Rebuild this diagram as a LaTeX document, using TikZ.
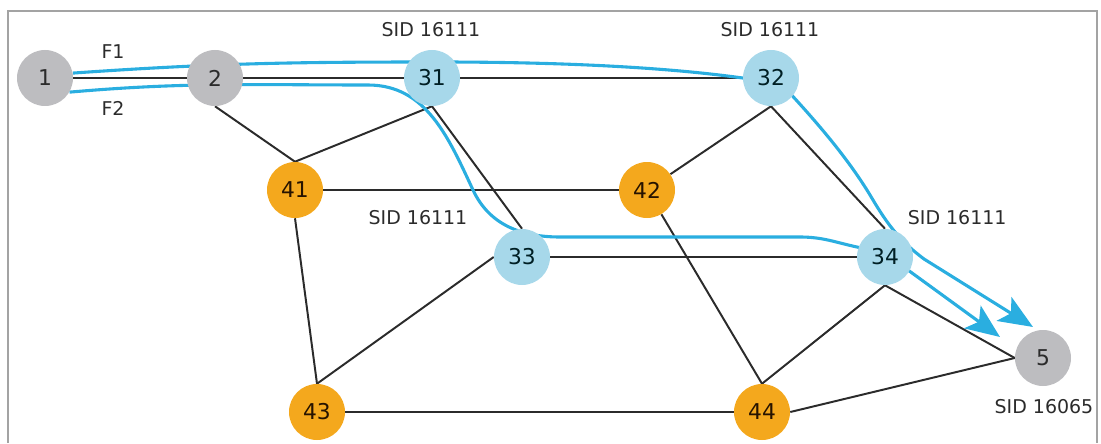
\documentclass[tikz,border=0pt]{standalone}
\usepackage{fontspec}
\newfontfamily\diagfont{DejaVu Sans}
\usetikzlibrary{arrows.meta,backgrounds}

\definecolor{pegray}{HTML}{BDBDC0}
\definecolor{spineblue}{HTML}{A7D8EA}
\definecolor{leaforange}{HTML}{F4A81D}
\definecolor{flowcyan}{HTML}{2AAEE0}
\definecolor{framegray}{HTML}{A3A3A3}
\definecolor{inkgray}{HTML}{2B2B2B}

\begin{document}
\begin{tikzpicture}[
    every node/.style={font={\diagfont\fontsize{13.5}{15}\selectfont}, text=inkgray},
    router/.style={circle, minimum size=1.4cm, inner sep=0pt, font={\diagfont\fontsize{15.5}{17}\selectfont}},
    pe/.style={router, fill=pegray},
    spine/.style={router, fill=spineblue, text=black!75!blue!40!cyan!20!black},
    leaf/.style={router, fill=leaforange, text=black!85!orange},
    link/.style={draw=inkgray, line width=1.4pt},
    flow/.style={draw=flowcyan, line width=2.2pt},
    flowtip/.style={flow, -{Stealth[length=0.85cm, width=0.7cm, inset=0.2cm]}},
]
    \useasboundingbox (0,0) rectangle (27.525,11.075);
    \draw[framegray, line width=1.4pt] (0.2,0) -- (0.2,10.8) -- (27.425,10.8) -- (27.425,0);

    % routers
    \node[pe]    (n1)  at (1.125,9.125)  {1};
    \node[pe]    (n2)  at (5.375,9.125)  {2};
    \node[spine] (n31) at (10.8,9.125)   {31};
    \node[spine] (n32) at (19.275,9.125) {32};
    \node[leaf]  (n41) at (7.375,6.325)  {41};
    \node[leaf]  (n42) at (16.175,6.325) {42};
    \node[spine] (n33) at (13.05,4.65)   {33};
    \node[spine] (n34) at (22.125,4.65)  {34};
    \node[leaf]  (n43) at (7.925,0.775)  {43};
    \node[leaf]  (n44) at (19.05,0.775)  {44};
    \node[pe]    (n5)  at (26.075,2.125) {5};

    % segment ids and flow names
    \node (sid31) at (10.775,10.325) {SID 16111};
    \node (sid32) at (19.25,10.325)  {SID 16111};
    \node (sid33) at (10.45,5.625)   {SID 16111};
    \node (sid34) at (23.93,5.625)   {SID 16111};
    \node (sid5)  at (26.1,0.9)      {SID 16065};
    \node (lblf1) at (2.825,9.775)   {F1};
    \node (lblf2) at (2.825,8.375)   {F2};

    \coordinate (f1end) at (25.825,2.9);
    \coordinate (f2end) at (25.0,2.65);

    \begin{scope}[on background layer]
        % links
        \draw[link] (n1) -- (n2);
        \draw[link] (n2) -- (n31);
        \draw[link] (n31) -- (n32);
        \draw[link] (n41) -- (n42);
        \draw[link] (n33) -- (n34);
        \draw[link] (n43) -- (n44);
        \draw[link] (n2.south) -- (n41.north);
        \draw[link] (n31.south) -- (n41.north);
        \draw[link] (n31.south) -- (n33.north);
        \draw[link] (n32.south) -- (n42);
        \draw[link] (n32.south) -- (n34.north);
        \draw[link] (n41.south) -- (n43.north);
        \draw[link] (n33.west) -- (n43.north);
        \draw[link] (n42) -- (n44.north);
        \draw[link] (n34.south) -- (n44.north);
        \draw[link] (n34.south) -- (n5.west);
        \draw[link] (n44.east) -- (n5.west);

        % flow F1 over 31 and 32
        \draw[flowtip] (n1.10) to[out=4,in=180] (10.8,9.525)
            .. controls (15,9.53) and (17.3,9.3) .. (n32.west)
            to[out=0,in=130] (n32.-40)
            .. controls (20.8,7.6) and (21.4,6.8) .. (21.825,6.075)
            .. controls (22.2,5.45) and (22.5,5.05) .. (23.1,4.6) -- (f1end);
        % flow F2 down through 33 and 34
        \draw[flowtip] (n1.-30) to[out=5,in=180] (9.2,8.95)
            to[out=0,in=115] (11.825,6.325)
            to[out=-65,in=180] (14,5.15) -- (20,5.15)
            to[out=0,in=168] (n34.160)
            to[out=-12,in=150] (n34.-30) -- (f2end);
    \end{scope}
\end{tikzpicture}
\end{document}
